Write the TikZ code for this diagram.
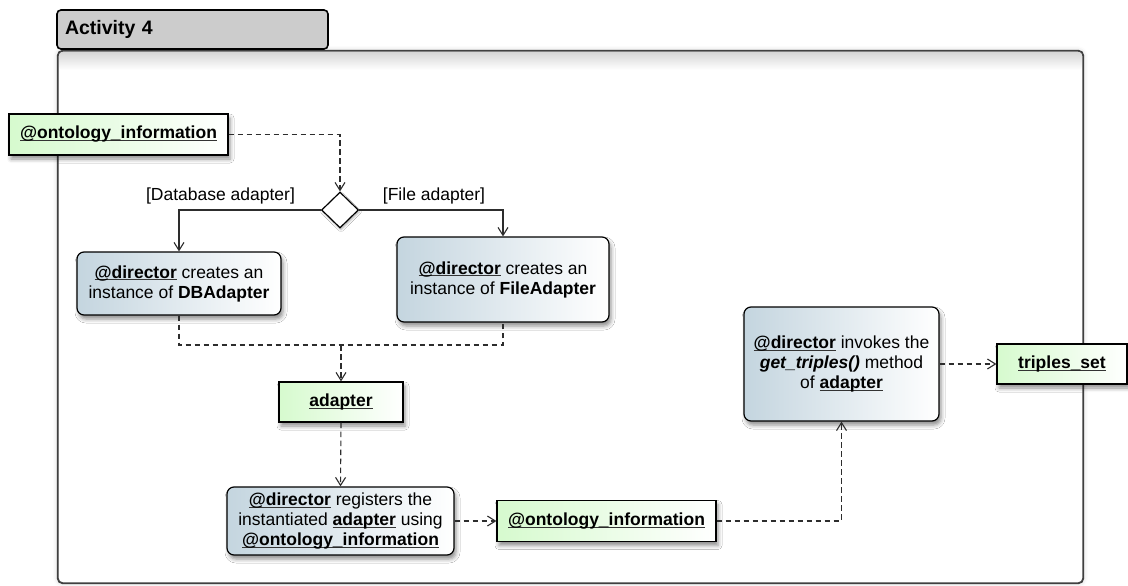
\documentclass[tikz,border=0pt]{standalone}
\usepackage{fontspec}
\setmainfont{Liberation Sans}
\usetikzlibrary{arrows.meta,shapes.geometric,shadows.blur}
\definecolor{actleft}{RGB}{196,213,223}
\definecolor{objleft}{RGB}{214,250,206}
\definecolor{linecol}{RGB}{45,45,45}
\definecolor{tabgray}{RGB}{204,204,204}
% bold, underlined reference name; the rule runs just below the baseline
\newsavebox{\lnkbox}
\newcommand{\lnk}[1]{\sbox{\lnkbox}{\textbf{#1}}%
  \rlap{\color{black!80}\rule[-2.4pt]{\wd\lnkbox}{1pt}}\usebox{\lnkbox}}

\begin{document}
\begin{tikzpicture}[x=1pt,y=-1pt,
  txt/.style={font=\fontsize{17.5}{20}\selectfont},
  shadowed/.style={blur shadow={shadow xshift=2pt, shadow yshift=-4pt,
      shadow blur radius=4pt, shadow opacity=45}},
  action/.style={txt, shadowed, draw=black, line width=1.2pt, rounded corners=7pt,
      left color=actleft, right color=white, align=center, inner sep=0pt},
  object/.style={txt, shadowed, draw=black, line width=1.2pt,
      left color=objleft, right color=white, align=center, inner sep=0pt},
  decision/.style={shape=diamond, draw=black, line width=1.2pt, fill=white,
      inner sep=0pt, minimum width=37pt, minimum height=36pt,
      blur shadow={shadow xshift=1pt, shadow yshift=-2pt, shadow blur radius=2pt, shadow opacity=30}},
  guard/.style={txt, inner sep=0pt},
  dashline/.style={draw=linecol, line width=1.1pt, dash pattern=on 5.5pt off 3.5pt},
  dep/.style={dashline, -{Straight Barb[length=8pt,width=10pt]}},
  flow/.style={draw=linecol, line width=1.1pt, -{Straight Barb[length=8pt,width=10pt]}},
  frame/.style={draw=black!75, line width=1.1pt, rounded corners=5pt, fill=white,
      blur shadow={shadow xshift=0pt, shadow yshift=0pt, shadow blur radius=5pt, shadow opacity=20}},
  tabstyle/.style={draw=black, line width=1.6pt, rounded corners=4pt, fill=tabgray,
      font=\fontsize{19.5}{22}\bfseries\selectfont, align=left, inner xsep=8pt, inner ysep=0pt}
]
\useasboundingbox (0,0) rectangle (1128,586);

% activity frame and its title tab
\node[frame, minimum width=1025pt, minimum height=532pt] (act) at (570.5,317) {};
\shade[top color=black!16, bottom color=white, rounded corners=3pt] (59.2,52.2) rectangle (1081.8,70);
\draw[draw=black!75, line width=1.1pt, rounded corners=5pt] (act.north west) rectangle (act.south east);
\node[tabstyle, text width=255pt, minimum height=39pt] (tab) at (192.5,29.5) {Activity 4};

% object and action nodes
\node[object, minimum width=219pt, minimum height=41pt] (ont1) at (118.5,134.5) {\lnk{@ontology\_information}};
\node[decision] (dia) at (340,210) {};
\node[action, minimum width=204pt, minimum height=63pt] (db) at (179,283.5)
  {\lnk{@director} creates an\\instance of \textbf{DBAdapter}};
\node[action, minimum width=212pt, minimum height=85pt] (file) at (503,279.5)
  {\lnk{@director} creates an\\instance of \textbf{FileAdapter}};
\node[object, minimum width=124pt, minimum height=40pt] (adapter) at (341,402) {\lnk{adapter}};
\node[action, minimum width=227pt, minimum height=68pt] (reg) at (340.5,521)
  {\lnk{@director} registers the\\instantiated \lnk{adapter} using\\\lnk{@ontology\_information}};
\node[object, minimum width=219pt, minimum height=41pt] (ont2) at (606.5,521) {\lnk{@ontology\_information}};
\node[action, minimum width=195pt, minimum height=114pt] (inv) at (841.5,364)
  {\lnk{@director} invokes the\\\textbf{\textit{get\_triples()}} method\\of \lnk{adapter}};
\node[object, minimum width=130pt, minimum height=40pt] (trip) at (1062,364) {\lnk{triples\_set}};

% guard labels
\node[guard] (gdb) at (220.5,196) {[Database adapter]};
\node[guard] (gfile) at (434,196) {[File adapter]};

% connectors
\coordinate (merge) at (341,345);
\draw[dep] (ont1.east) -| (dia.north);
\draw[flow] (dia.west) -| (db.north);
\draw[flow] (dia.east) -| (file.north);
\draw[dashline] (db.south) |- (merge) -| (file.south);
\draw[dep] (merge) -- (adapter.north);
\draw[dep] (adapter.south) -- (reg.north);
\draw[dep] (reg.east) -- (ont2.west);
\draw[dep] (ont2.east) -| (inv.south);
\draw[dep] (inv.east) -- (trip.west);
\end{tikzpicture}
\end{document}
